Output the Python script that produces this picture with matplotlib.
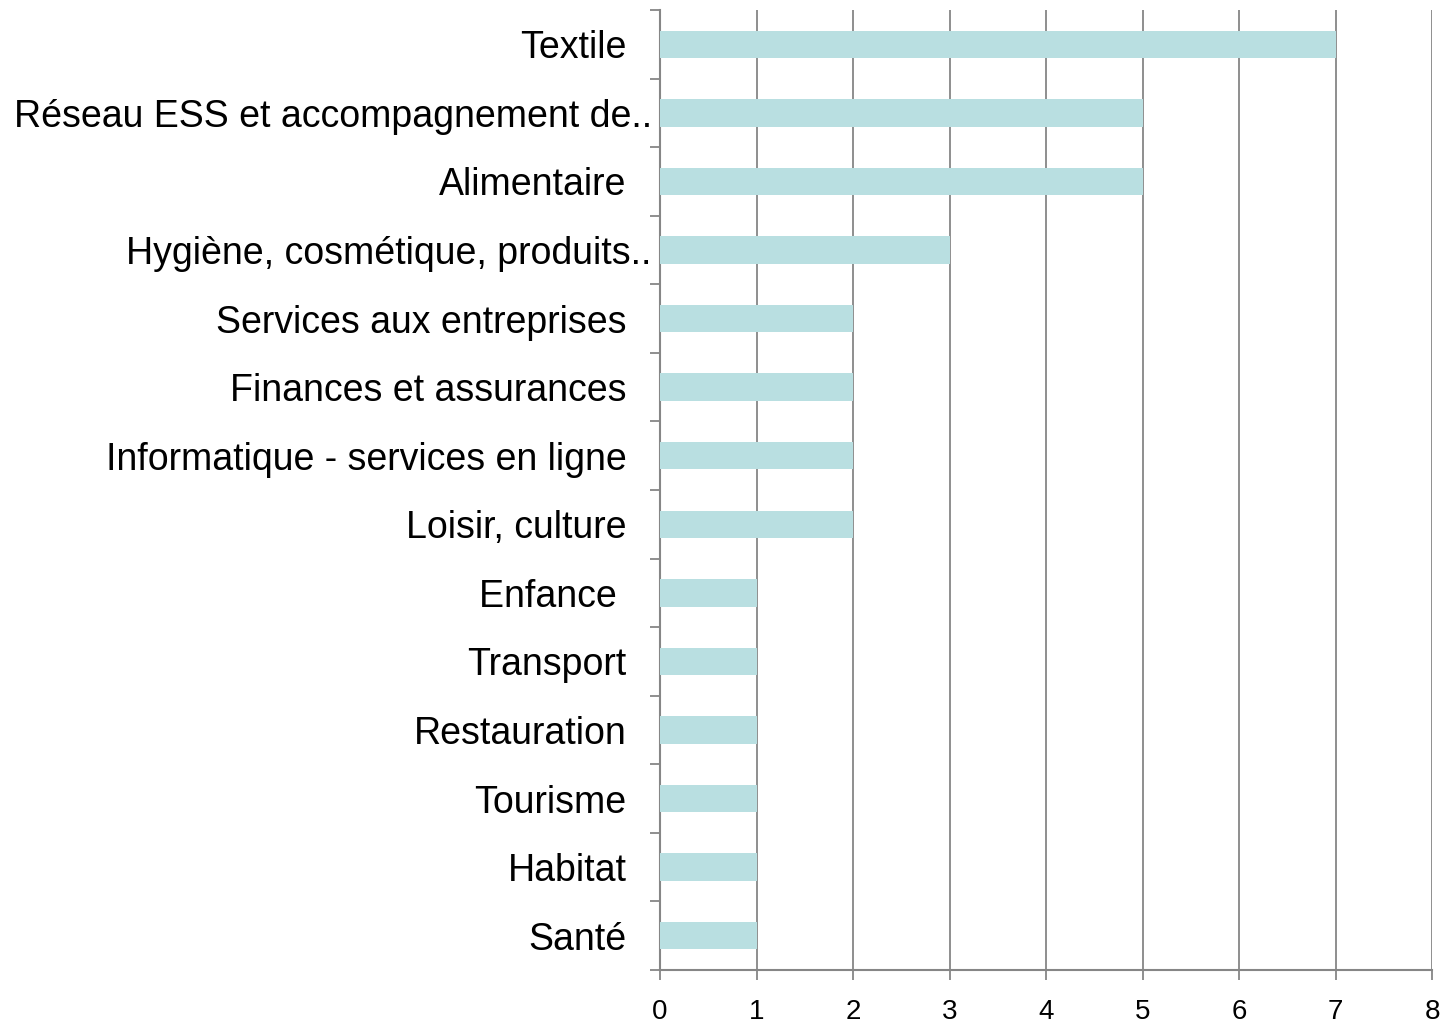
import matplotlib.pyplot as plt
import matplotlib.transforms as mtransforms
from matplotlib import font_manager
import numpy as np

plt.rcParams['font.family'] = ['Liberation Sans', 'DejaVu Sans']

# Secteurs d'activité (du haut vers le bas) et nombre de structures
secteurs = ['Textile', 'Réseau ESS et accompagnement de..', 'Alimentaire',
            'Hygiène, cosmétique, produits..', 'Services aux entreprises',
            'Finances et assurances', 'Informatique - services en ligne',
            'Loisir, culture', 'Enfance ', 'Transport', 'Restauration',
            'Tourisme', 'Habitat', 'Santé']
valeurs = [7, 5, 5, 3, 2, 2, 2, 2, 1, 1, 1, 1, 1, 1]
graduations = [0, 1, 2, 3, 4, 5, 6, 7, 8]

gris = '#868686'
couleur_barre = '#B9DFE1'

# police étroite pour les graduations si disponible
noms = {f.name for f in font_manager.fontManager.ttflist}
police_x = 'Liberation Sans Narrow' if 'Liberation Sans Narrow' in noms else 'Liberation Sans'

fig = plt.figure(figsize=(14.41, 10.24), dpi=100)
ax = fig.add_axes([660 / 1441, 54 / 1024, 772 / 1441, 960 / 1024])

n = len(secteurs)
pos = np.arange(n)[::-1]
ax.barh(pos, valeurs, height=0.4, color=couleur_barre, zorder=3)

ax.set_xlim(0, 8)
ax.set_ylim(-0.5, n - 0.5)
ax.set_xticks(graduations)
ax.set_xticklabels([str(g) for g in graduations], fontsize=20, family=police_x)
ax.set_yticks(pos)
ax.set_yticklabels(secteurs, fontsize=27)
ax.set_yticks(np.arange(n + 1) - 0.5, minor=True)

ax.tick_params(axis='y', which='major', length=0, pad=24)
ax.tick_params(axis='y', which='minor', length=7, width=1.3, color=gris)
ax.tick_params(axis='x', length=7, width=1.3, color=gris, pad=14)

ax.grid(axis='x', color=gris, linewidth=1.3, zorder=0)
for cote in ['top', 'right']:
    ax.spines[cote].set_visible(False)
for cote in ['left', 'bottom']:
    ax.spines[cote].set_color(gris)
    ax.spines[cote].set_linewidth(1.5)

# les libellés tronqués débordent vers l'axe
decalage = mtransforms.ScaledTranslation(18 / 72, 0, fig.dpi_scale_trans)
for lab in ax.get_yticklabels():
    if lab.get_text().endswith('..'):
        lab.set_transform(lab.get_transform() + decalage)

fig.savefig('out.png', dpi=100)
